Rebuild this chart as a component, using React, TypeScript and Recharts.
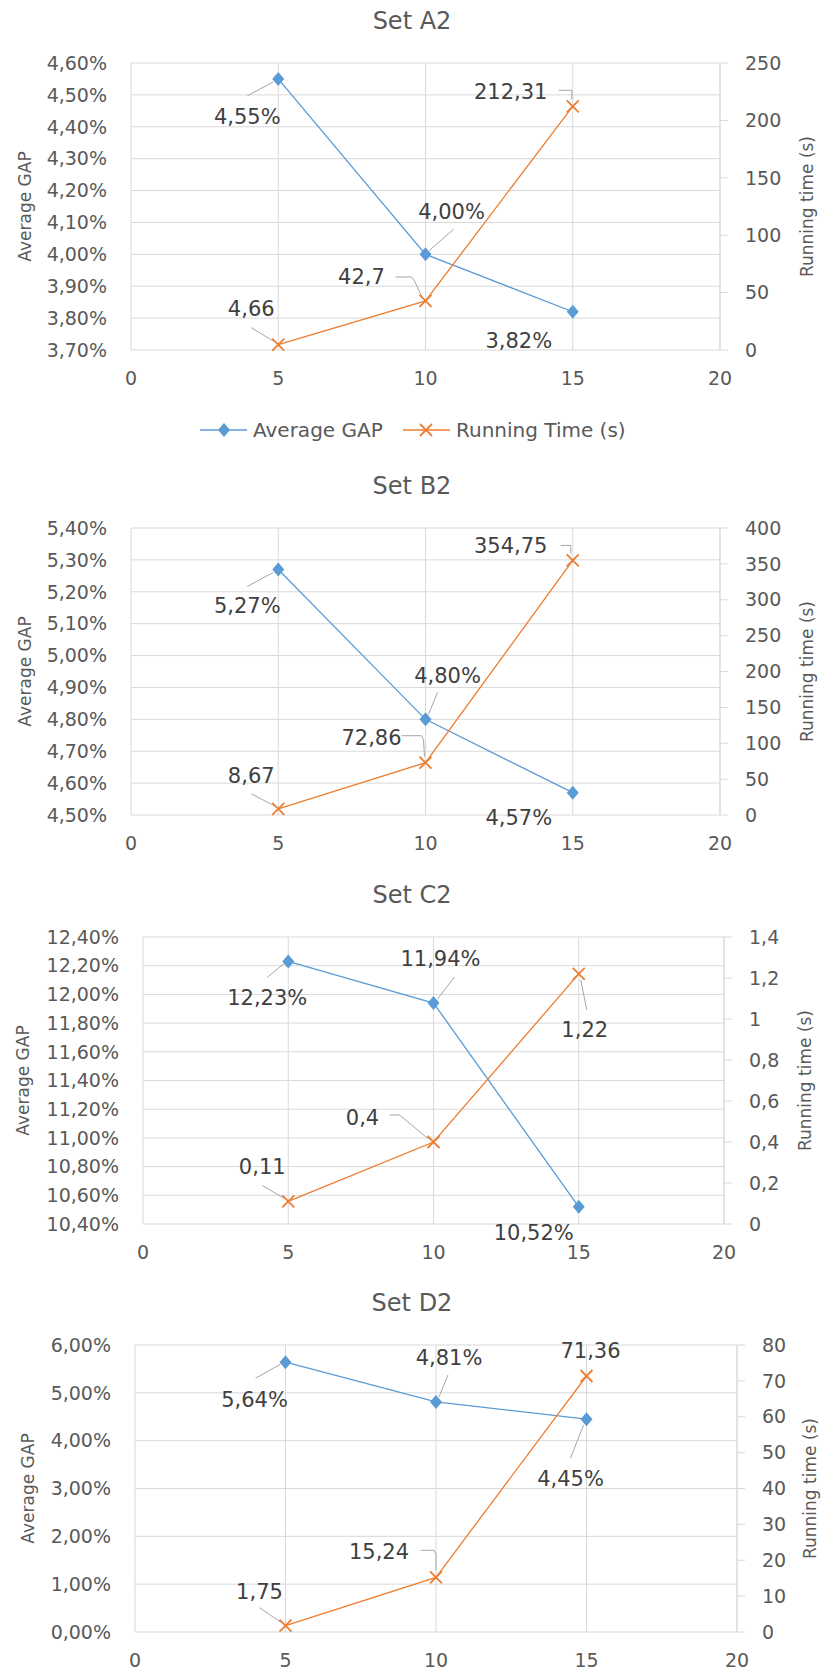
import React from "react";
import { LineChart, Line, XAxis, YAxis, CartesianGrid, LabelList } from "recharts";

// instance sizes on the x axis
const sizes = [5, 10, 15];
const xTicks = [0, 5, 10, 15, 20];

const gapA2 = [4.55, 4.0, 3.82];
const timeA2 = [4.66, 42.7, 212.31];
const gapTicksA2 = [3.7, 3.8, 3.9, 4.0, 4.1, 4.2, 4.3, 4.4, 4.5, 4.6];
const timeTicksA2 = [0, 50, 100, 150, 200, 250];

const gapB2 = [5.27, 4.8, 4.57];
const timeB2 = [8.67, 72.86, 354.75];
const gapTicksB2 = [4.5, 4.6, 4.7, 4.8, 4.9, 5.0, 5.1, 5.2, 5.3, 5.4];
const timeTicksB2 = [0, 50, 100, 150, 200, 250, 300, 350, 400];

const gapC2 = [12.23, 11.94, 10.52];
const timeC2 = [0.11, 0.4, 1.22];
const gapTicksC2 = [10.4, 10.6, 10.8, 11.0, 11.2, 11.4, 11.6, 11.8, 12.0, 12.2, 12.4];
const timeTicksC2 = [0, 0.2, 0.4, 0.6, 0.8, 1, 1.2, 1.4];

const gapD2 = [5.64, 4.81, 4.45];
const timeD2 = [1.75, 15.24, 71.36];
const gapTicksD2 = [0, 1, 2, 3, 4, 5, 6];
const timeTicksD2 = [0, 10, 20, 30, 40, 50, 60, 70, 80];

const BLUE = "#5B9BD5";
const ORANGE = "#ED7D31";
const GRID = "#d9d9d9";
const TEXT = "#595959";
const LEADER = "#a6a6a6";

type Pt = [number, number];

const comma = (v: number) => String(v).replace(".", ",");
const pct = (v: number) => v.toFixed(2).replace(".", ",") + "%";

const charts = [
  {
    title: "Set A2", gap: gapA2, time: timeA2, gapTicks: gapTicksA2, timeTicks: timeTicksA2,
    plotTop: 63, plotBottom: 350, left: 131, right: 720, leftTitleX: 25, rightTitleX: 807,
    gapPos: [[-31, 38], [26, -42], [-54, 29]] as Pt[],
    timePos: [[-27, -36], [-64, -24], [-62, -14]] as Pt[],
    gapLead: [[[-31, 17], [-5, 3]], [[28, -25], [4, -4]], null] as (Pt[] | null)[],
    timeLead: [[[-27, -17], [-4, -3]], [[-30, -24], [-14, -24], [-11, -20], [-4, -5]], [[-14, -16], [-1, -16], [-1, -7]]] as (Pt[] | null)[],
  },
  {
    title: "Set B2", gap: gapB2, time: timeB2, gapTicks: gapTicksB2, timeTicks: timeTicksB2,
    plotTop: 528, plotBottom: 815, left: 131, right: 720, leftTitleX: 25, rightTitleX: 807,
    gapPos: [[-31, 37], [22, -43], [-54, 25]] as Pt[],
    timePos: [[-27, -33], [-54, -25], [-62, -14]] as Pt[],
    gapLead: [[[-31, 17], [-5, 3]], [[12, -27], [3, -5]], null] as (Pt[] | null)[],
    timeLead: [[[-27, -15], [-4, -3]], [[-24, -27], [-4, -27], [-2, -23], [-1, -6]], [[-12, -15], [-2, -15], [-2, -7]]] as (Pt[] | null)[],
  },
  {
    title: "Set C2", gap: gapC2, time: timeC2, gapTicks: gapTicksC2, timeTicks: timeTicksC2,
    plotTop: 937, plotBottom: 1224, left: 143, right: 724, leftTitleX: 23, rightTitleX: 805,
    gapPos: [[-21, 37], [7, -44], [-45, 26]] as Pt[],
    timePos: [[-26, -34], [-71, -24], [6, 56]] as Pt[],
    gapLead: [[[-21, 16], [-4, 2]], [[21, -26], [4, -4]], null] as (Pt[] | null)[],
    timeLead: [[[-26, -16], [-4, -3]], [[-44, -27], [-34, -27], [-5, -3]], [[2, 6], [8, 36]]] as (Pt[] | null)[],
  },
  {
    title: "Set D2", gap: gapD2, time: timeD2, gapTicks: gapTicksD2, timeTicks: timeTicksD2,
    plotTop: 1345, plotBottom: 1632, left: 135, right: 737, leftTitleX: 28, rightTitleX: 810,
    gapPos: [[-31, 38], [13, -44], [-16, 60]] as Pt[],
    timePos: [[-26, -34], [-57, -25], [4, -25]] as Pt[],
    gapLead: [[[-30, 16], [-5, 2]], [[12, -27], [3, -5]], [[-16, 39], [-3, 6]]] as (Pt[] | null)[],
    timeLead: [[[-26, -18], [-4, -3]], [[-15, -27], [-2, -27], [0, -23], [0, -7]], null] as (Pt[] | null)[],
  },
];

const Diamond = ({ cx, cy }: { cx: number; cy: number }) => (
  <polygon points={`${cx},${cy - 7} ${cx + 6},${cy} ${cx},${cy + 7} ${cx - 6},${cy}`} fill={BLUE} />
);

const Cross = ({ cx, cy }: { cx: number; cy: number }) => (
  <g stroke={ORANGE} strokeWidth={1.8}>
    <line x1={cx - 6} y1={cy - 6} x2={cx + 6} y2={cy + 6} />
    <line x1={cx - 6} y1={cy + 6} x2={cx + 6} y2={cy - 6} />
  </g>
);

function makeLabel(pos: Pt[], lead: (Pt[] | null)[], fmt: (v: number) => string) {
  return (p: any) => {
    const i = p.index;
    const vb = p.viewBox || {};
    const x = Number(vb.x ?? p.x);
    const y = Number(vb.y ?? p.y);
    const [dx, dy] = pos[i];
    const l = lead[i];
    return (
      <g key={`lbl-${i}`}>
        {l && (
          <polyline
            points={l.map(([a, b]) => `${x + a},${y + b}`).join(" ")}
            fill="none"
            stroke={LEADER}
            strokeWidth={1}
          />
        )}
        <text x={x + dx} y={y + dy} textAnchor="middle" dominantBaseline="central" fontSize={21} fill="#404040">
          {fmt(Number(p.value))}
        </text>
      </g>
    );
  };
}

function SetChart({ c }: { c: (typeof charts)[number] }) {
  const data = sizes.map((s, i) => ({ size: s, gap: c.gap[i], time: c.time[i] }));
  const top = c.plotTop - 60;
  const height = c.plotBottom + 50 - top;
  const gt = c.gapTicks;
  const tt = c.timeTicks;
  return (
    <div style={{ position: "absolute", left: 0, top }}>
      <LineChart width={824} height={height} data={data} margin={{ top: 60, right: 0, bottom: 0, left: 0 }}>
        <CartesianGrid yAxisId="left" stroke={GRID} />
        <XAxis
          dataKey="size"
          type="number"
          domain={[0, 20]}
          ticks={xTicks}
          interval={0}
          axisLine={false}
          tickLine={false}
          tickSize={0}
          tickMargin={22}
          height={50}
          tick={{ fontSize: 19, fill: TEXT }}
        />
        <YAxis
          yAxisId="left"
          orientation="left"
          width={c.left}
          domain={[gt[0], gt[gt.length - 1]]}
          ticks={gt}
          interval={0}
          axisLine={false}
          tickLine={false}
          tickSize={0}
          tickMargin={24}
          tickFormatter={pct}
          tick={{ fontSize: 19, fill: TEXT }}
        />
        <YAxis
          yAxisId="right"
          orientation="right"
          width={824 - c.right}
          domain={[tt[0], tt[tt.length - 1]]}
          ticks={tt}
          interval={0}
          axisLine={{ stroke: GRID }}
          tickLine={{ stroke: GRID }}
          tickSize={8}
          tickMargin={17}
          tickFormatter={comma}
          tick={{ fontSize: 19, fill: TEXT }}
        />
        <Line
          yAxisId="left"
          dataKey="gap"
          stroke={BLUE}
          strokeWidth={1.3}
          isAnimationActive={false}
          dot={(p: any) => <Diamond key={`d-${p.index}`} cx={p.cx} cy={p.cy} />}
          activeDot={false}
        >
          <LabelList dataKey="gap" content={makeLabel(c.gapPos, c.gapLead, pct)} />
        </Line>
        <Line
          yAxisId="right"
          dataKey="time"
          stroke={ORANGE}
          strokeWidth={1.3}
          isAnimationActive={false}
          dot={(p: any) => <Cross key={`x-${p.index}`} cx={p.cx} cy={p.cy} />}
          activeDot={false}
        >
          <LabelList dataKey="time" content={makeLabel(c.timePos, c.timeLead, comma)} />
        </Line>
      </LineChart>
    </div>
  );
}

export default function App() {
  return (
    <div
      style={{
        position: "absolute",
        left: 0,
        top: 0,
        width: 824,
        height: 1673,
        background: "#fff",
        fontFamily: "'DejaVu Sans', sans-serif",
      }}
    >
      {charts.map((c) => (
        <SetChart key={c.title} c={c} />
      ))}
      <svg width={824} height={1673} style={{ position: "absolute", left: 0, top: 0, pointerEvents: "none" }}>
        {charts.map((c) => {
          const mid = (c.plotTop + c.plotBottom) / 2;
          return (
            <g key={c.title} fill={TEXT}>
              <text x={412} y={c.plotTop - 42} textAnchor="middle" dominantBaseline="central" fontSize={24}>
                {c.title}
              </text>
              <text
                x={c.leftTitleX}
                y={mid}
                textAnchor="middle"
                dominantBaseline="central"
                fontSize={17}
                transform={`rotate(-90 ${c.leftTitleX} ${mid})`}
              >
                Average GAP
              </text>
              <text
                x={c.rightTitleX}
                y={mid}
                textAnchor="middle"
                dominantBaseline="central"
                fontSize={17}
                transform={`rotate(-90 ${c.rightTitleX} ${mid})`}
              >
                Running time (s)
              </text>
            </g>
          );
        })}
        {/* legend under Set A2 */}
        <g>
          <line x1={200} y1={430} x2={247} y2={430} stroke={BLUE} strokeWidth={1.3} />
          <Diamond cx={224} cy={430} />
          <text x={253} y={430} dominantBaseline="central" fontSize={20} fill={TEXT}>
            Average GAP
          </text>
          <line x1={403} y1={430} x2={450} y2={430} stroke={ORANGE} strokeWidth={1.3} />
          <Cross cx={426} cy={430} />
          <text x={456} y={430} dominantBaseline="central" fontSize={20} fill={TEXT}>
            Running Time (s)
          </text>
        </g>
      </svg>
    </div>
  );
}
